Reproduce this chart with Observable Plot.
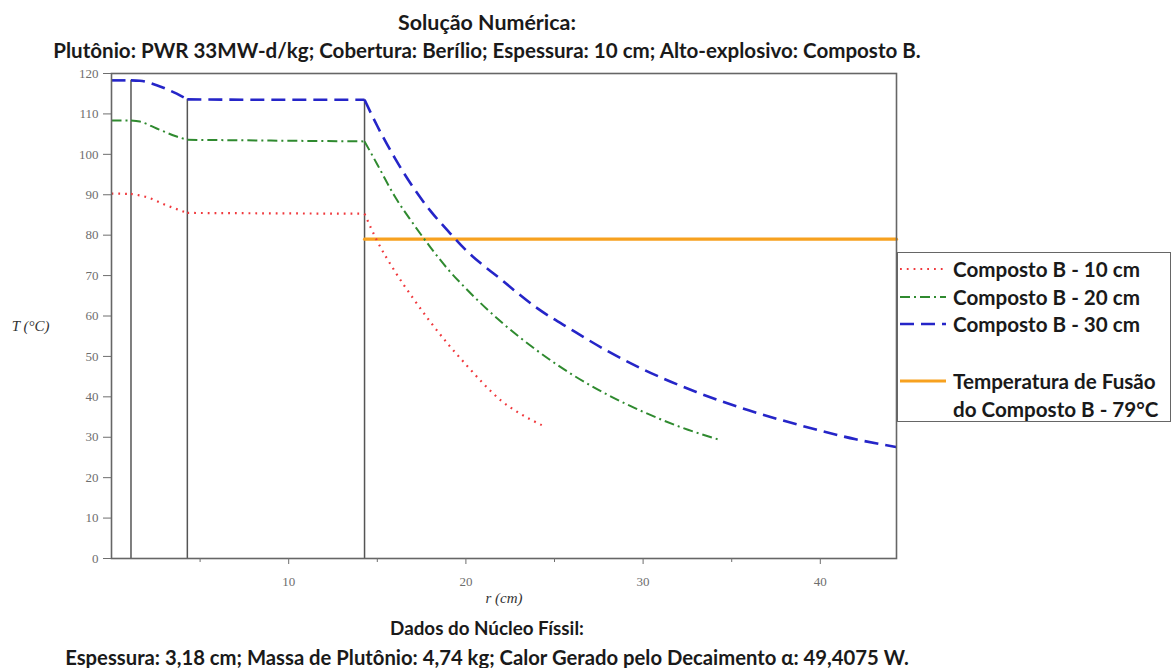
<!DOCTYPE html>
<html>
<head>
<meta charset="utf-8">
<script src="https://cdn.jsdelivr.net/npm/d3@7"></script>
<script src="https://cdn.jsdelivr.net/npm/@observablehq/plot@0.6"></script>
<style>
  body { margin: 0; background: #fff; font-family: Lato, "Open Sans", sans-serif; }
  #page { position: relative; width: 1174px; height: 668px; overflow: hidden; }
  .ttl { width: 974px; text-align: center; font-weight: bold; color: #1a1a1a; white-space: nowrap; }
  .ttl span { display: inline-block; }
  #t1 { padding-top: 8px; height: 28px; line-height: 28px; }
  #t2 { height: 28px; line-height: 28px; }
  #c1 { height: 32px; line-height: 32px; }
  #c2 { height: 26px; line-height: 26px; }
  #chart svg { display: block; }
  #legend { position: absolute; left: 897px; top: 252px; width: 274px; height: 170px;
            border: 1.5px solid #666; box-sizing: border-box; background: #fff; }
  .lrow { position: absolute; left: 0; height: 28px; white-space: nowrap; }
  .lrow svg { position: absolute; left: 2px; top: 0; }
  .lrow span { position: absolute; left: 55px; top: 0; line-height: 28px; font-weight: bold; color: #1a1a1a; }
</style>
</head>
<body>
<div id="page">
  <div id="t1" class="ttl"><span data-w="178">Solução Numérica:</span></div>
  <div id="t2" class="ttl"><span data-w="868">Plutônio: PWR 33MW-d/kg; Cobertura: Berílio; Espessura: 10 cm; Alto-explosivo: Composto B.</span></div>
  <div id="chart"></div>
  <div id="c1" class="ttl"><span data-w="194">Dados do Núcleo Físsil:</span></div>
  <div id="c2" class="ttl"><span data-w="844">Espessura: 3,18 cm; Massa de Plutônio: 4,74 kg; Calor Gerado pelo Decaimento α: 49,4075 W.</span></div>
  <div id="legend"></div>
</div>
<script>
// ---- data ----
const seriesNames = ["Composto B - 10 cm", "Composto B - 20 cm", "Composto B - 30 cm"];
const seriesColors = ["#f0383c", "#2f8a2f", "#2525c8"];
const seriesDash = ["1.8,5", "10,4,2,4", "14,7"];
const seriesWidth = [2.2, 2, 2.6];

const r10 = [0, 1.1, 2.0, 3.1, 4.28, 9, 14.28, 15, 16, 17, 18, 19, 20, 21, 22, 23, 24.28];
const t10 = [90.3, 90.2, 89.4, 87.4, 85.5, 85.4, 85.3, 78.5, 71, 64.5, 58.5, 53, 48, 43.2, 39, 36, 33];

const r20 = [0, 1.1, 1.6, 2.55, 3.68, 4.28, 9, 14.28, 15, 16, 17, 18, 19, 20, 22, 24, 26, 28, 30, 32, 34.28];
const t20 = [108.4, 108.4, 108.1, 106.4, 104.4, 103.6, 103.4, 103.2, 97.5, 89.5, 83, 77, 71.5, 66.8, 58.5, 51.5, 45.5, 40.5, 36.3, 32.7, 29.4];

const r30 = [0, 1.1, 1.6, 2.55, 3.68, 4.28, 9, 14.28, 15, 16, 17, 18, 19, 20, 22, 24, 26, 28, 30, 33, 36, 39, 42, 44.28];
const t30 = [118.3, 118.3, 118.2, 117.1, 115.0, 113.6, 113.5, 113.5, 107, 99, 92, 86, 81, 76.3, 69, 62, 56.5, 51.3, 46.8, 41.2, 36.6, 32.8, 29.5, 27.6];

const fusionLabel = ["Temperatura de Fusão", "do Composto B - 79°C"];
const fusionColor = "#f7a11f";
const fusionR = [14.28, 44.3];
const fusionT = [79, 79];

// layer boundaries: void | plutonium | beryllium | explosive
const boundaries = [1.1, 4.28, 14.28];
const boundaryTops = [118.3, 113.6, 113.5];

const xMajorTicks = [10, 20, 30, 40];
const xMinorTicks = [5, 15, 25, 35];
const yTicks = [0, 10, 20, 30, 40, 50, 60, 70, 80, 90, 100, 110, 120];
const xLabel = "r (cm)";
const yLabel = "T (°C)";

// ---- build tables (split at layer boundaries so the kinks stay sharp) ----
const edges = [0, ...boundaries, Infinity];
const radii = [r10, r20, r30];
const temps = [t10, t20, t30];
const curves = seriesNames.map((name, i) => {
  const rows = [];
  for (let k = 0; k < edges.length - 1; k++) {
    radii[i].forEach((r, j) => {
      if (r >= edges[k] && r <= edges[k + 1]) rows.push({ r, t: temps[i][j], name, seg: k });
    });
  }
  return rows;
});
const fusion = fusionR.map((r, j) => ({ r, t: fusionT[j] }));
const walls = boundaries.map((b, i) => ({ r: b, top: boundaryTops[i] }));

const chart = Plot.plot({
  width: 1174,
  height: 548,
  marginLeft: 111,
  marginRight: 278,
  marginTop: 9,
  marginBottom: 54,
  x: { domain: [0, 44.3] },
  y: { domain: [0, 120] },
  style: { fontFamily: "'Liberation Serif', 'DejaVu Serif', serif", fontSize: "13px", color: "#6e6e6e", background: "transparent" },
  marks: [
    Plot.ruleX(walls, { x: "r", y1: 0, y2: "top", stroke: "#555", strokeWidth: 1.5 }),
    Plot.line(fusion, { x: "r", y: "t", stroke: fusionColor, strokeWidth: 3.2 }),
    ...curves.map((c, i) => Plot.line(c, {
      x: "r", y: "t", z: "seg", stroke: seriesColors[i], strokeWidth: seriesWidth[i],
      strokeDasharray: seriesDash[i], curve: "monotone-x", strokeLinecap: "butt"
    })),
    Plot.frame({ stroke: "#666", strokeWidth: 1.6 }),
    Plot.axisY({ ticks: yTicks, tickSize: 8, tickPadding: 5, label: null, fontSize: 13 }),
    Plot.axisX({ ticks: xMajorTicks, tickSize: 6, tickPadding: 12, label: null, fontSize: 13 }),
    Plot.axisX({ ticks: xMinorTicks, tickSize: 4, tickFormat: () => "", label: null }),
    Plot.text([xLabel], { text: d => d, frameAnchor: "bottom", dy: 44, fontStyle: "italic", fontSize: 15, fill: "#333" }),
    Plot.text([yLabel], { text: d => d, frameAnchor: "left", dx: -62, dy: 10, textAnchor: "end", fontStyle: "italic", fontSize: 15, fill: "#333" })
  ]
});
document.getElementById("chart").appendChild(chart);

// ---- legend ----
const legend = document.getElementById("legend");
const rowTops = [2, 30, 57, 114, 142];
function addRow(top, text, stroke, dash, width, withLine) {
  const row = document.createElement("div");
  row.className = "lrow";
  row.style.top = top + "px";
  row.style.width = "270px";
  if (withLine) {
    const ns = "http://www.w3.org/2000/svg";
    const s = document.createElementNS(ns, "svg");
    s.setAttribute("width", 46); s.setAttribute("height", 28);
    const l = document.createElementNS(ns, "line");
    l.setAttribute("x1", 0); l.setAttribute("x2", 46);
    l.setAttribute("y1", 14); l.setAttribute("y2", 14);
    l.setAttribute("stroke", stroke); l.setAttribute("stroke-width", width);
    if (dash) l.setAttribute("stroke-dasharray", dash);
    s.appendChild(l);
    row.appendChild(s);
  }
  const sp = document.createElement("span");
  sp.textContent = text;
  sp.className = "legtxt";
  row.appendChild(sp);
  legend.appendChild(row);
}
seriesNames.forEach((n, i) => addRow(rowTops[i], n, seriesColors[i], seriesDash[i], seriesWidth[i], true));
addRow(rowTops[3], fusionLabel[0], fusionColor, null, 3.2, true);
addRow(rowTops[4], fusionLabel[1], null, null, 0, false);

// ---- fit fonts to reference text widths ----
function fitTo(el, target) {
  el.style.fontSize = "20px";
  const w = el.getBoundingClientRect().width;
  el.style.fontSize = (20 * target / w).toFixed(2) + "px";
}
document.querySelectorAll(".ttl span").forEach(el => fitTo(el, +el.dataset.w));
const legSpans = document.querySelectorAll(".legtxt");
fitTo(legSpans[0], 187);
legSpans.forEach(el => el.style.fontSize = legSpans[0].style.fontSize);
</script>
</body>
</html>
